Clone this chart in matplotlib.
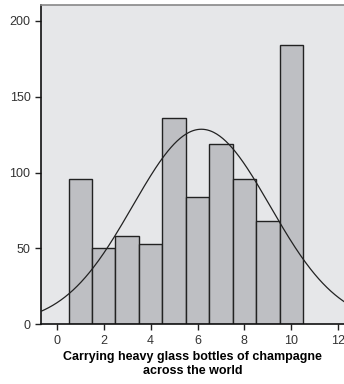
import numpy as np
import matplotlib
matplotlib.use("Agg")
import matplotlib.pyplot as plt

plt.rcParams['font.family'] = ['Liberation Sans', 'DejaVu Sans']

scores = [1, 2, 3, 4, 5, 6, 7, 8, 9, 10]
counts = [96, 50, 58, 53, 136, 84, 119, 96, 68, 184]
xticks = [0, 2, 4, 6, 8, 10, 12]
yticks = [0, 50, 100, 150, 200]

fig = plt.figure(figsize=(3.44, 3.84), dpi=100)
ax = fig.add_axes([0.119, 0.156, 0.881, 0.831])
ax.set_facecolor('#e6e7e9')

ax.bar(scores, counts, width=1.0, color='#bebfc3', edgecolor='#222222', linewidth=1.0, zorder=2)

# normal curve fitted to the histogram
x = np.array(scores, dtype=float)
w = np.array(counts, dtype=float)
n = w.sum()
mu = (x * w).sum() / n
sd = np.sqrt((w * (x - mu) ** 2).sum() / n)
xs = np.linspace(-0.7, 12.3, 300)
ys = n * 1.0 / (sd * np.sqrt(2 * np.pi)) * np.exp(-(xs - mu) ** 2 / (2 * sd ** 2))
ax.plot(xs, ys, color='#222222', linewidth=0.9, zorder=3)

ax.set_xlim(-0.68, 12.25)
ax.set_ylim(0, 210.5)
ax.set_xticks(xticks)
ax.set_yticks(yticks)
ax.tick_params(labelsize=9, length=4, width=1, colors='#222222', labelcolor='#333333')
for s in ['left', 'bottom']:
    ax.spines[s].set_linewidth(1.2)
    ax.spines[s].set_color('#111111')
ax.spines['top'].set_color('#888888')
ax.spines['top'].set_linewidth(1.2)
ax.spines['right'].set_visible(False)

ax.set_xlabel('Carrying heavy glass bottles of champagne\nacross the world',
              fontsize=9, fontweight='bold', labelpad=3, linespacing=1.3)

fig.savefig('out.png', dpi=100)
